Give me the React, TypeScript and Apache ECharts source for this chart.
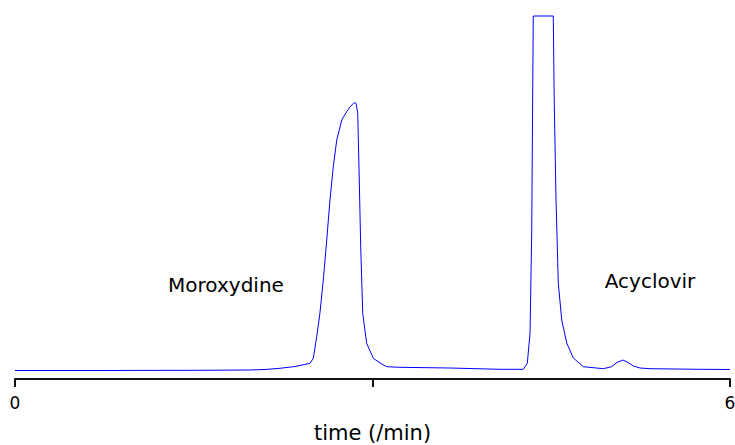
import React, { useEffect, useRef } from "react";
import * as echarts from "echarts";

// time (min)
const times: number[] = [
  0, 0.713, 1.552, 1.972, 2.098, 2.224, 2.35, 2.476, 2.503, 2.532, 2.559, 2.587,
  2.616, 2.643, 2.671, 2.7, 2.742, 2.783, 2.811, 2.845, 2.862, 2.876, 2.889,
  2.901, 2.918, 2.951, 3.007, 3.063, 3.119, 3.231, 3.65, 4.07, 4.265, 4.299,
  4.322, 4.336, 4.349, 4.517, 4.525, 4.54, 4.559, 4.588, 4.63, 4.685, 4.769,
  4.937, 5.007, 5.052, 5.102, 5.144, 5.189, 5.245, 5.329, 5.748, 6.0,
];
// detector signal (relative, clipped at 100)
const signal: number[] = [
  2.34, 2.34, 2.4, 2.48, 2.62, 2.95, 3.44, 4.33, 5.7, 11.65, 18.18, 27.27,
  38.29, 49.31, 58.49, 65.84, 71.35, 73.64, 74.93, 76.12, 75.95, 73.2, 54.82,
  36.45, 18.1, 9.83, 5.7, 4.41, 3.39, 3.22, 3.03, 2.67, 2.67, 4.33,
  12.67, 40.22, 100, 100, 76.86, 49.31, 26.45, 16.25, 9.92, 5.79, 3.39,
  2.84, 3.39, 4.55, 5.23, 4.55, 3.58, 3.03, 2.84, 2.67, 2.62,
];
const tickLabels: Record<number, string> = { 0: "0", 3: "", 6: "6" };
const peakNames: string[] = ["Moroxydine", "Acyclovir"];

export default function App() {
  const ref = useRef<HTMLDivElement>(null);
  useEffect(() => {
    if (!ref.current) return;
    const chart = echarts.init(ref.current, undefined, { renderer: "svg" });
    const font = "DejaVu Sans";
    chart.setOption({
      animation: false,
      backgroundColor: "#ffffff",
      grid: {
        left: 15,
        right: 5,
        top: 16,
        bottom: 66,
        containLabel: false,
        outerBoundsMode: "none",
      },
      xAxis: {
        type: "value",
        min: 0,
        max: 6,
        interval: 3,
        name: "time (/min)",
        nameLocation: "middle",
        nameGap: 43,
        nameTextStyle: { fontFamily: font, fontSize: 21, color: "#000" },
        axisLine: { show: true, lineStyle: { color: "#111", width: 2 } },
        axisTick: { show: true, length: 8, lineStyle: { color: "#111", width: 2 } },
        axisLabel: {
          margin: 15,
          fontFamily: font,
          fontSize: 17,
          color: "#000",
          formatter: (v: number) => tickLabels[v] ?? "",
        },
        splitLine: { show: false },
      },
      yAxis: {
        type: "value",
        min: 0,
        max: 100,
        show: false,
      },
      series: [
        {
          type: "line",
          data: times.map((t, i) => [t, signal[i]]),
          showSymbol: false,
          symbol: "none",
          lineStyle: { color: "#0000ff", width: 1 },
          clip: false,
        },
      ],
      graphic: [
        {
          type: "text",
          x: 226,
          y: 285,
          style: {
            text: peakNames[0],
            fontFamily: font,
            fontSize: 20,
            fill: "#000",
            textAlign: "center",
            textVerticalAlign: "middle",
          },
        },
        {
          type: "text",
          x: 650,
          y: 281,
          style: {
            text: peakNames[1],
            fontFamily: font,
            fontSize: 20,
            fill: "#000",
            textAlign: "center",
            textVerticalAlign: "middle",
          },
        },
      ],
    });
    return () => chart.dispose();
  }, []);
  return (
    <div
      ref={ref}
      style={{ position: "fixed", left: 0, top: 0, width: 735, height: 445 }}
    />
  );
}
